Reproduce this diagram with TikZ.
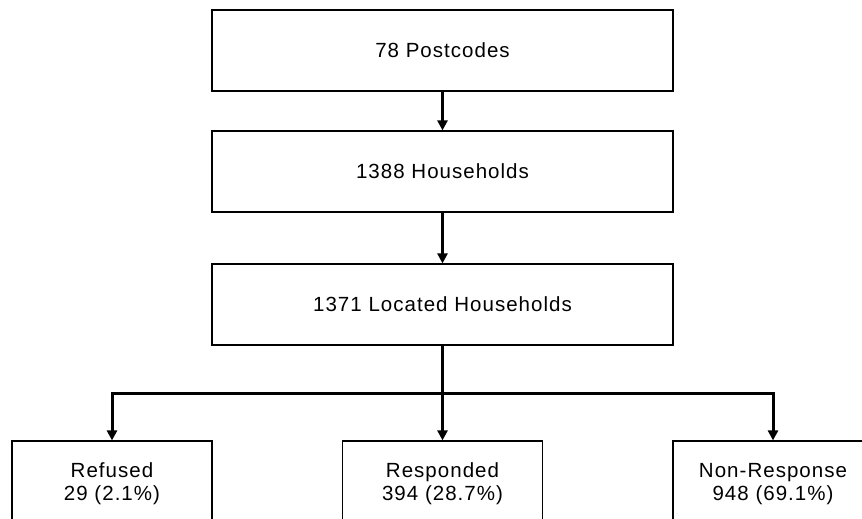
\documentclass[tikz,border=0pt]{standalone}
\usepackage{fontspec}
\setmainfont{Liberation Sans}[LetterSpace=5]
\usetikzlibrary{arrows.meta}
\begin{document}
\begin{tikzpicture}[x=1pt,y=-1pt,
  box/.style={draw, line width=1.2pt, inner sep=0pt, align=center,
    font=\fontsize{20.5}{23}\selectfont},
  wide/.style={box, minimum width=461pt, minimum height=81pt},
  small/.style={box, minimum width=200pt, minimum height=86pt},
  arr/.style={line width=3pt, -{Triangle[length=10pt,width=10pt]}},
  conn/.style={line width=3pt}]
\useasboundingbox (0,0) rectangle (862,519);
\node[wide] (b1) at (442.5,50.5) {78 Postcodes};
\node[wide] (b2) at (442.5,171.5) {1388 Households};
\node[wide] (b3) at (442.5,304.5) {1371 Located Households};
\node[small] (r1) at (112,484) {Refused\\29 (2.1\%)};
\node[small] (r2) at (442.5,484) {Responded\\394 (28.7\%)};
\node[small] (r3) at (773,484) {Non-Response\\948 (69.1\%)};
\coordinate (j) at (442.5,393);
\draw[arr] (b1.south) -- (b2.north);
\draw[arr] (b2.south) -- (b3.north);
\draw[conn] (b3.south) -- (j);
\draw[arr] (j) -| (r1.north);
\draw[arr] (j) -| (r3.north);
\draw[arr] (j) -- (r2.north);
\end{tikzpicture}
\end{document}
